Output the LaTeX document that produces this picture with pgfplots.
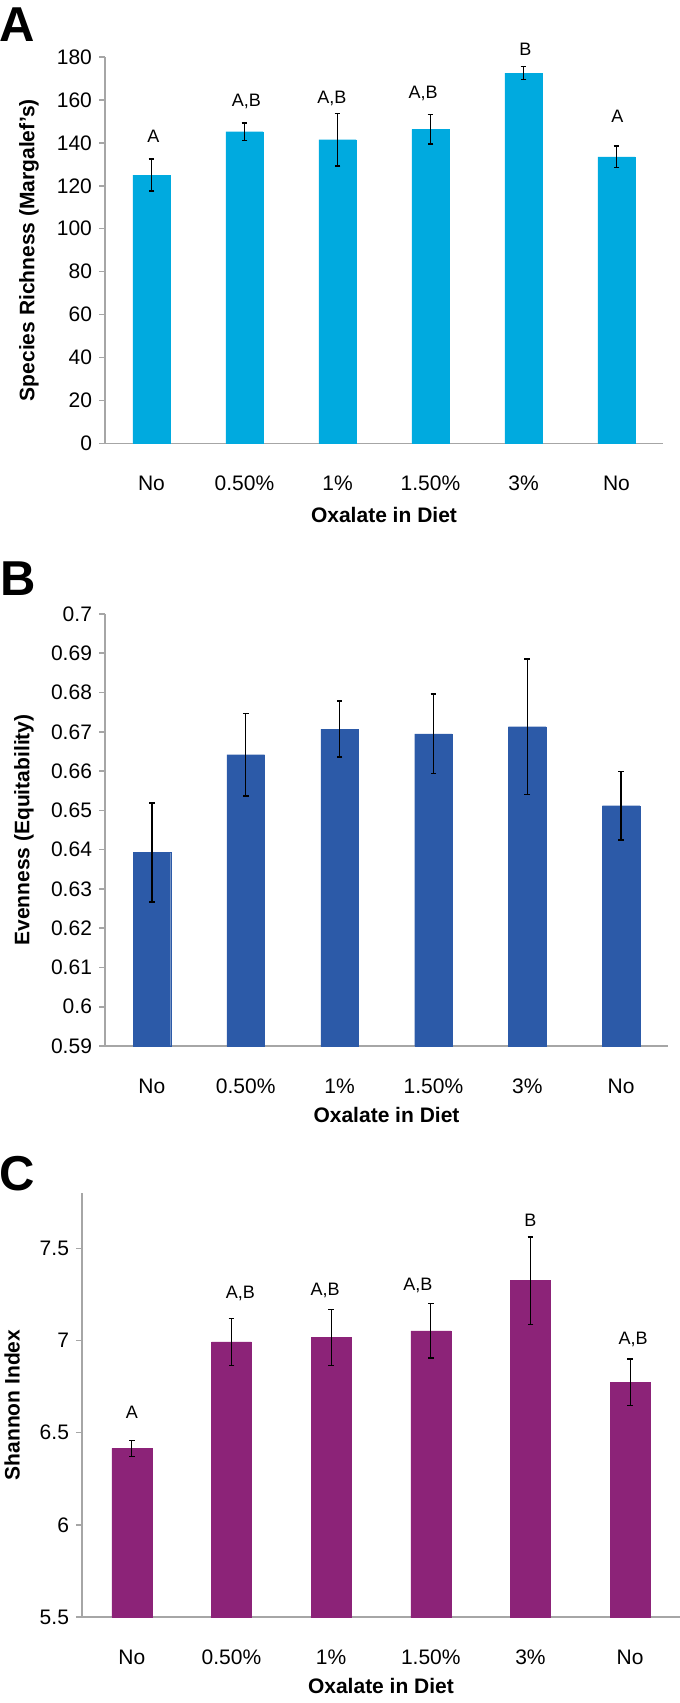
\documentclass[border=0pt]{standalone}
\usepackage{fontspec}
\setmainfont{Liberation Sans}
\usepackage{pgfplots}
\pgfplotsset{compat=1.18}
\definecolor{barA}{HTML}{00AADF}
\definecolor{barB}{HTML}{2C5AA8}
\definecolor{barC}{HTML}{8C2378}
\definecolor{axisgray}{HTML}{A6A6A6}

\pgfplotsset{
  panel/.style={
    scale only axis,
    axis lines*=left,
    axis line style={axisgray, line width=0.8pt, -},
    xmin=-0.5, xmax=5.5,
    xtick={0,...,5},
    xticklabels={No,0.50\%,1\%,1.50\%,3\%,No},
    xtick style={draw=none},
    ytick style={axisgray, line width=0.8pt},
    tick align=outside,
    major tick length=3pt,
    tick label style={font=\fontsize{10.5}{12}\selectfont},
    xticklabel style={anchor=center, text height=7.5pt, text depth=0pt, yshift=-17pt},
    /pgf/number format/assume math mode=true,
    label style={font=\fontsize{10.5}{12}\selectfont\bfseries},
  },
  bars/.style={ybar, bar width=0.4, fill=#1, draw=#1, line width=0.1pt,
    error bars/.cd, y dir=both, y explicit,
    error bar style={black, line width=0.6pt},
    error mark options={rotate=90, black, mark size=1.4pt, line width=0.7pt}},
  letters/.style={only marks, mark=*, mark size=0pt, mark options={draw=none, fill=none},
    nodes near coords, point meta=explicit symbolic,
    every node near coord/.style={anchor=base, font=\fontsize{9}{10}\selectfont, inner sep=0pt}},
}

\begin{document}
\begin{tikzpicture}
\path[use as bounding box] (0,0) rectangle (340pt,-851.5pt);

% panel labels
\node[font=\fontsize{24.5}{28}\selectfont\bfseries, inner sep=0pt] at (8.5pt,-12.25pt) {A};
\node[font=\fontsize{24.5}{28}\selectfont\bfseries, inner sep=0pt] at (9pt,-289.5pt) {B};
\node[font=\fontsize{24.5}{28}\selectfont\bfseries, inner sep=0pt] at (8.5pt,-587pt) {C};

% A: species richness
\begin{axis}[panel, at={(52.5pt,-221.65pt)}, anchor=south west,
    width=279pt, height=193.15pt, clip=false,
    ymin=0, ymax=180, ytick={0,20,...,180},
    ylabel={Species Richness (Margalef's)},
    ylabel style={at={(axis description cs:-0.136,0.5)}, anchor=center},
    xlabel={Oxalate in Diet},
    xlabel style={at={(axis description cs:0.5,-0.1865)}, anchor=center}]
\addplot[bars=barA] coordinates {
    (0,125.0) +- (0,7.5)
    (1,145.2) +- (0,4.0)
    (2,141.5) +- (0,12.3)
    (3,146.3) +- (0,6.8)
    (4,172.5) +- (0,3.1)
    (5,133.5) +- (0,5.1)
};
\addplot[letters] table[meta=l] {
x y l
0.02 140.3 A
1.02 157.0 A,B
1.94 158.2 A,B
2.92 160.6 A,B
4.02 180.6 B
5.01 149.7 A
};
\end{axis}

% B: evenness
\begin{axis}[panel, at={(52.5pt,-523pt)}, anchor=south west,
    width=281.5pt, height=216pt,
    ymin=0.59, ymax=0.70,
    ytick={0.59,0.60,0.61,0.62,0.63,0.64,0.65,0.66,0.67,0.68,0.69,0.70},
    yticklabel style={/pgf/number format/fixed, /pgf/number format/precision=2},
    ylabel={Evenness (Equitability)},
    ylabel style={at={(axis description cs:-0.144,0.5)}, anchor=center},
    xlabel={Oxalate in Diet},
    xlabel style={at={(axis description cs:0.5,-0.16)}, anchor=center}]
\addplot[bars=barB] coordinates {
    (0,0.6393) +- (0,0.0126)
    (1,0.6642) +- (0,0.0105)
    (2,0.6707) +- (0,0.0071)
    (3,0.6695) +- (0,0.0101)
    (4,0.6713) +- (0,0.0172)
    (5,0.6512) +- (0,0.0087)
};
\end{axis}

% C: Shannon index
\begin{axis}[panel, at={(41pt,-808.5pt)}, anchor=south west,
    width=299pt, height=212pt,
    ymin=5.5, ymax=7.8, ytick={5.5,6,6.5,7,7.5},
    ylabel={Shannon Index},
    ylabel style={at={(axis description cs:-0.117,0.5)}, anchor=center},
    xlabel={Oxalate in Diet},
    xlabel style={at={(axis description cs:0.5,-0.163)}, anchor=center}]
\addplot[bars=barC] coordinates {
    (0,6.415) +- (0,0.043)
    (1,6.992) +- (0,0.128)
    (2,7.016) +- (0,0.152)
    (3,7.052) +- (0,0.148)
    (4,7.325) +- (0,0.237)
    (5,6.774) +- (0,0.125)
};
\addplot[letters] table[meta=l] {
x y l
0.00 6.578 A
1.09 7.230 A,B
1.94 7.244 A,B
2.87 7.272 A,B
4.00 7.621 B
5.03 6.979 A,B
};
\end{axis}
\end{tikzpicture}
\end{document}
